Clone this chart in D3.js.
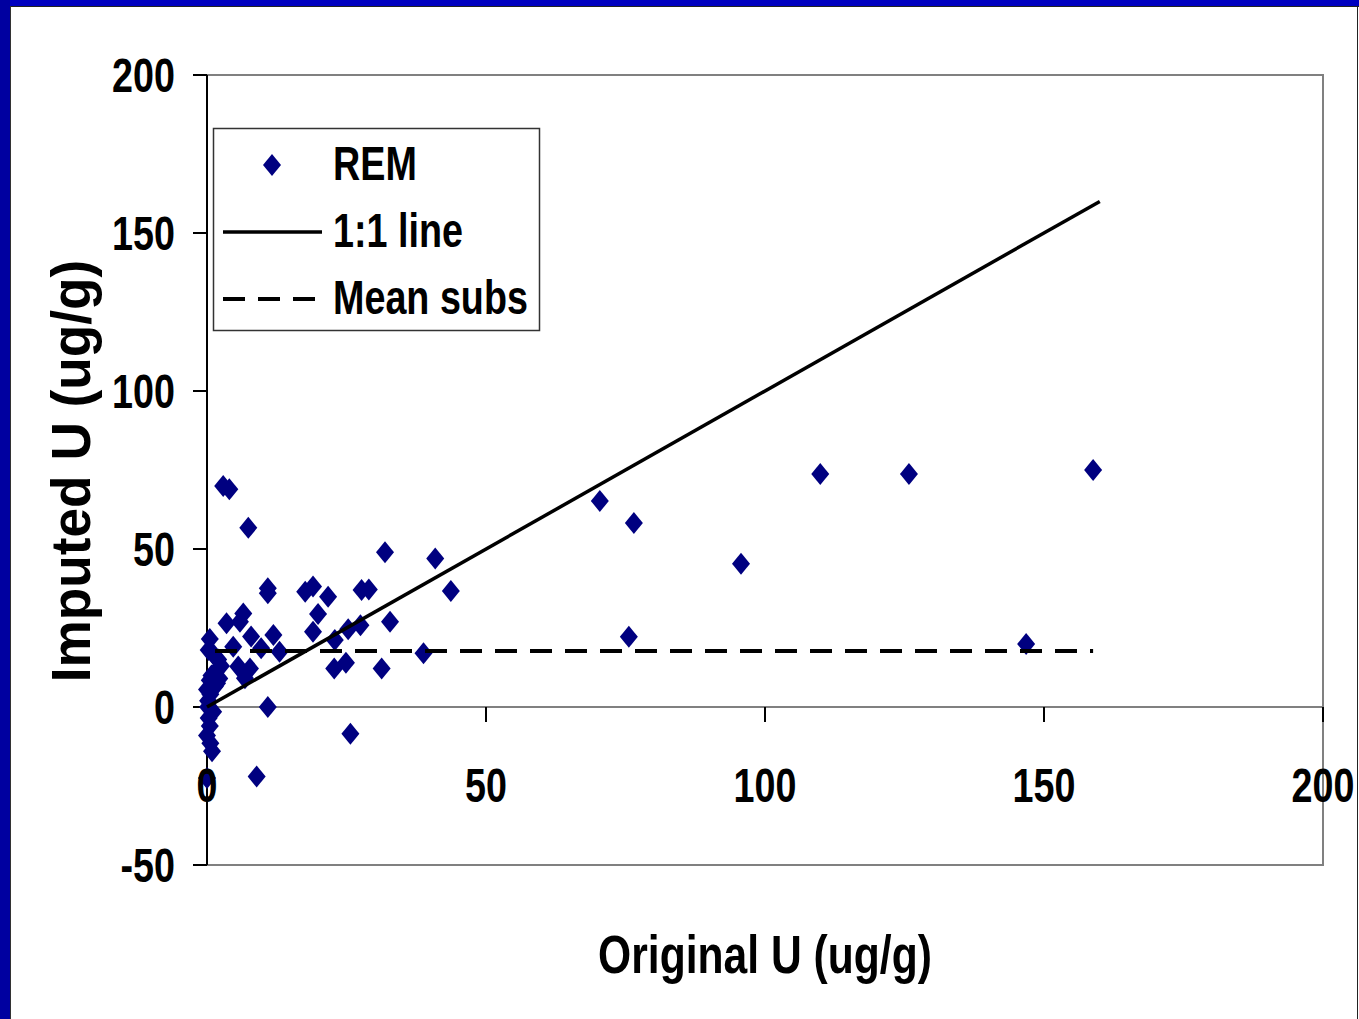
<!doctype html>
<html>
<head>
<meta charset="utf-8">
<script src="https://cdnjs.cloudflare.com/ajax/libs/d3/7.8.5/d3.min.js"></script>
<style>
  html, body { margin: 0; padding: 0; background: white; }
  svg { display: block; }
  .bold { font-family: "Liberation Sans", Arial, sans-serif; font-weight: bold; }
</style>
</head>
<body>
<svg id="chart" width="1359" height="1019"></svg>
<script>
// REM imputed values vs original values
const origU = [0.5, 0.3, 1.2, 2.0, 2.5, 1.5, 2.2, 0.5, 1.4, 0.0, 0.6, 0.2, 1.1, 0.3, 0.5, 0.0, 0.6, 0.9, 0.0, 0.8, 1.8, 0.2,
  2.9, 4.0, 7.4, 31.9, 40.9, 10.9, 10.9, 17.6, 19.0, 21.7, 27.7, 29.0, 19.9, 19.0, 25.3, 27.5, 32.8, 22.9, 22.8, 24.9,
  31.3, 38.8, 10.9, 25.7, 8.9, 3.5, 6.5, 5.9, 7.9, 4.7, 9.7, 11.9, 13.0, 5.6, 7.7, 6.8, 43.7,
  158.8, 109.9, 125.8, 70.4, 76.5, 95.7, 75.6, 146.8];
const imputedU = [21.5, 18, 16.5, 15, 13, 11, 9, 8.5, 6.5, 5.5, 4, 2, -1.5, -3.5, -6, -9, -11.5, -14, -22.5, 10, 7.5, 0,
  69.9, 68.9, 56.7, 49, 47, 37.6, 36, 36.5, 38.1, 34.9, 37, 37.2, 29.4, 23.8, 24.6, 25.9, 27, 21.2, 12.2, 14,
  12.2, 17, 0, -8.5, -22, 26.5, 29.6, 27, 22.3, 19.1, 18.6, 22.8, 17.5, 12.8, 12.2, 9.1, 36.7,
  75, 73.7, 73.7, 65.2, 58.2, 45.3, 22.2, 19.9];

const oneToOne = [[0, 0], [160, 160]];
const meanSubs = 17.7;
const meanRange = [0, 158.8];

const xTicks = [0, 50, 100, 150, 200];
const yTicks = [-50, 0, 50, 100, 150, 200];
const legendNames = ["REM", "1:1 line", "Mean subs"];

const svg = d3.select("#chart");
const squeeze = 0.82; // narrow bold look

// slide frame
svg.append("rect").attr("x", 0).attr("y", 0).attr("width", 1359).attr("height", 6).attr("fill", "#0000c0");
svg.append("rect").attr("x", 0).attr("y", 0).attr("width", 10).attr("height", 1019).attr("fill", "#0000a0");
svg.append("line").attr("x1", 10).attr("x2", 1359).attr("y1", 6.5).attr("y2", 6.5).attr("stroke", "#222");
svg.append("line").attr("x1", 10.5).attr("x2", 10.5).attr("y1", 6).attr("y2", 1019).attr("stroke", "#333");
svg.append("line").attr("x1", 1357.5).attr("x2", 1357.5).attr("y1", 6).attr("y2", 1019).attr("stroke", "#222");

const x = d3.scaleLinear().domain([0, 200]).range([207, 1323]);
const y = d3.scaleLinear().domain([-50, 200]).range([865, 75]);

// plot area border
svg.append("rect")
  .attr("x", x(0)).attr("y", y(200))
  .attr("width", x(200) - x(0)).attr("height", y(-50) - y(200))
  .attr("fill", "none").attr("stroke", "#808080").attr("stroke-width", 2);

// x axis at y = 0
svg.append("line")
  .attr("x1", x(0)).attr("x2", x(200)).attr("y1", y(0)).attr("y2", y(0))
  .attr("stroke", "#808080").attr("stroke-width", 2);
svg.selectAll(".xtick").data(xTicks).enter().append("line")
  .attr("x1", d => x(d)).attr("x2", d => x(d))
  .attr("y1", y(0)).attr("y2", y(0) + 15)
  .attr("stroke", "black").attr("stroke-width", 2);

// y axis
svg.append("line")
  .attr("x1", x(0)).attr("x2", x(0)).attr("y1", y(200)).attr("y2", y(-50))
  .attr("stroke", "black").attr("stroke-width", 2);
svg.selectAll(".ytick").data(yTicks).enter().append("line")
  .attr("x1", x(0) - 14).attr("x2", x(0))
  .attr("y1", d => y(d)).attr("y2", d => y(d))
  .attr("stroke", "black").attr("stroke-width", 2);

// points
const diamond = "M0,-11L9,0L0,11L-9,0Z";
svg.selectAll(".pt").data(origU).enter().append("path")
  .attr("d", diamond)
  .attr("transform", (d, i) => "translate(" + x(d) + "," + y(imputedU[i]) + ")")
  .attr("fill", "#000080");

// 1:1 line and mean substitution line
svg.append("line")
  .attr("x1", x(oneToOne[0][0])).attr("y1", y(oneToOne[0][1]))
  .attr("x2", x(oneToOne[1][0])).attr("y2", y(oneToOne[1][1]))
  .attr("stroke", "black").attr("stroke-width", 3.5);
svg.append("line")
  .attr("x1", x(meanRange[0]) + 8).attr("x2", x(meanRange[1]))
  .attr("y1", y(meanSubs)).attr("y2", y(meanSubs))
  .attr("stroke", "black").attr("stroke-width", 4).attr("stroke-dasharray", "22,13");

// tick labels
svg.selectAll(".xlab").data(xTicks).enter().append("text")
  .attr("class", "bold")
  .attr("transform", d => "translate(" + x(d) + ",802) scale(" + squeeze + ",1.05)")
  .attr("text-anchor", "middle").attr("font-size", 46)
  .text(d => d);
svg.selectAll(".ylab").data(yTicks).enter().append("text")
  .attr("class", "bold")
  .attr("transform", d => "translate(175," + (y(d) + 17) + ") scale(" + squeeze + ",1.05)")
  .attr("text-anchor", "end").attr("font-size", 46)
  .text(d => d);

// axis titles
svg.append("text").attr("class", "bold")
  .attr("transform", "translate(765,973) scale(" + squeeze + ",1.05)")
  .attr("text-anchor", "middle").attr("font-size", 52)
  .text("Original U (ug/g)");
svg.append("text").attr("class", "bold")
  .attr("transform", "translate(90,471) rotate(-90) scale(0.95,1)")
  .attr("text-anchor", "middle").attr("font-size", 56)
  .text("Imputed U (ug/g)");

// legend
const lg = svg.append("g");
lg.append("rect").attr("x", 213.5).attr("y", 128.5).attr("width", 326).attr("height", 202)
  .attr("fill", "white").attr("stroke", "#333").attr("stroke-width", 1.5);
lg.append("path").attr("d", "M0,-11L9,0L0,11L-9,0Z")
  .attr("transform", "translate(272,165)").attr("fill", "#000080");
lg.append("line").attr("x1", 223).attr("x2", 322).attr("y1", 232).attr("y2", 232)
  .attr("stroke", "black").attr("stroke-width", 3.5);
lg.append("line").attr("x1", 223).attr("x2", 322).attr("y1", 299).attr("y2", 299)
  .attr("stroke", "black").attr("stroke-width", 4).attr("stroke-dasharray", "22,13");
lg.selectAll(".lt").data(legendNames).enter().append("text")
  .attr("class", "bold")
  .attr("transform", (d, i) => "translate(333," + (180 + i * 67) + ") scale(" + squeeze + ",1.05)")
  .attr("font-size", 46)
  .text(d => d);
</script>
</body>
</html>
